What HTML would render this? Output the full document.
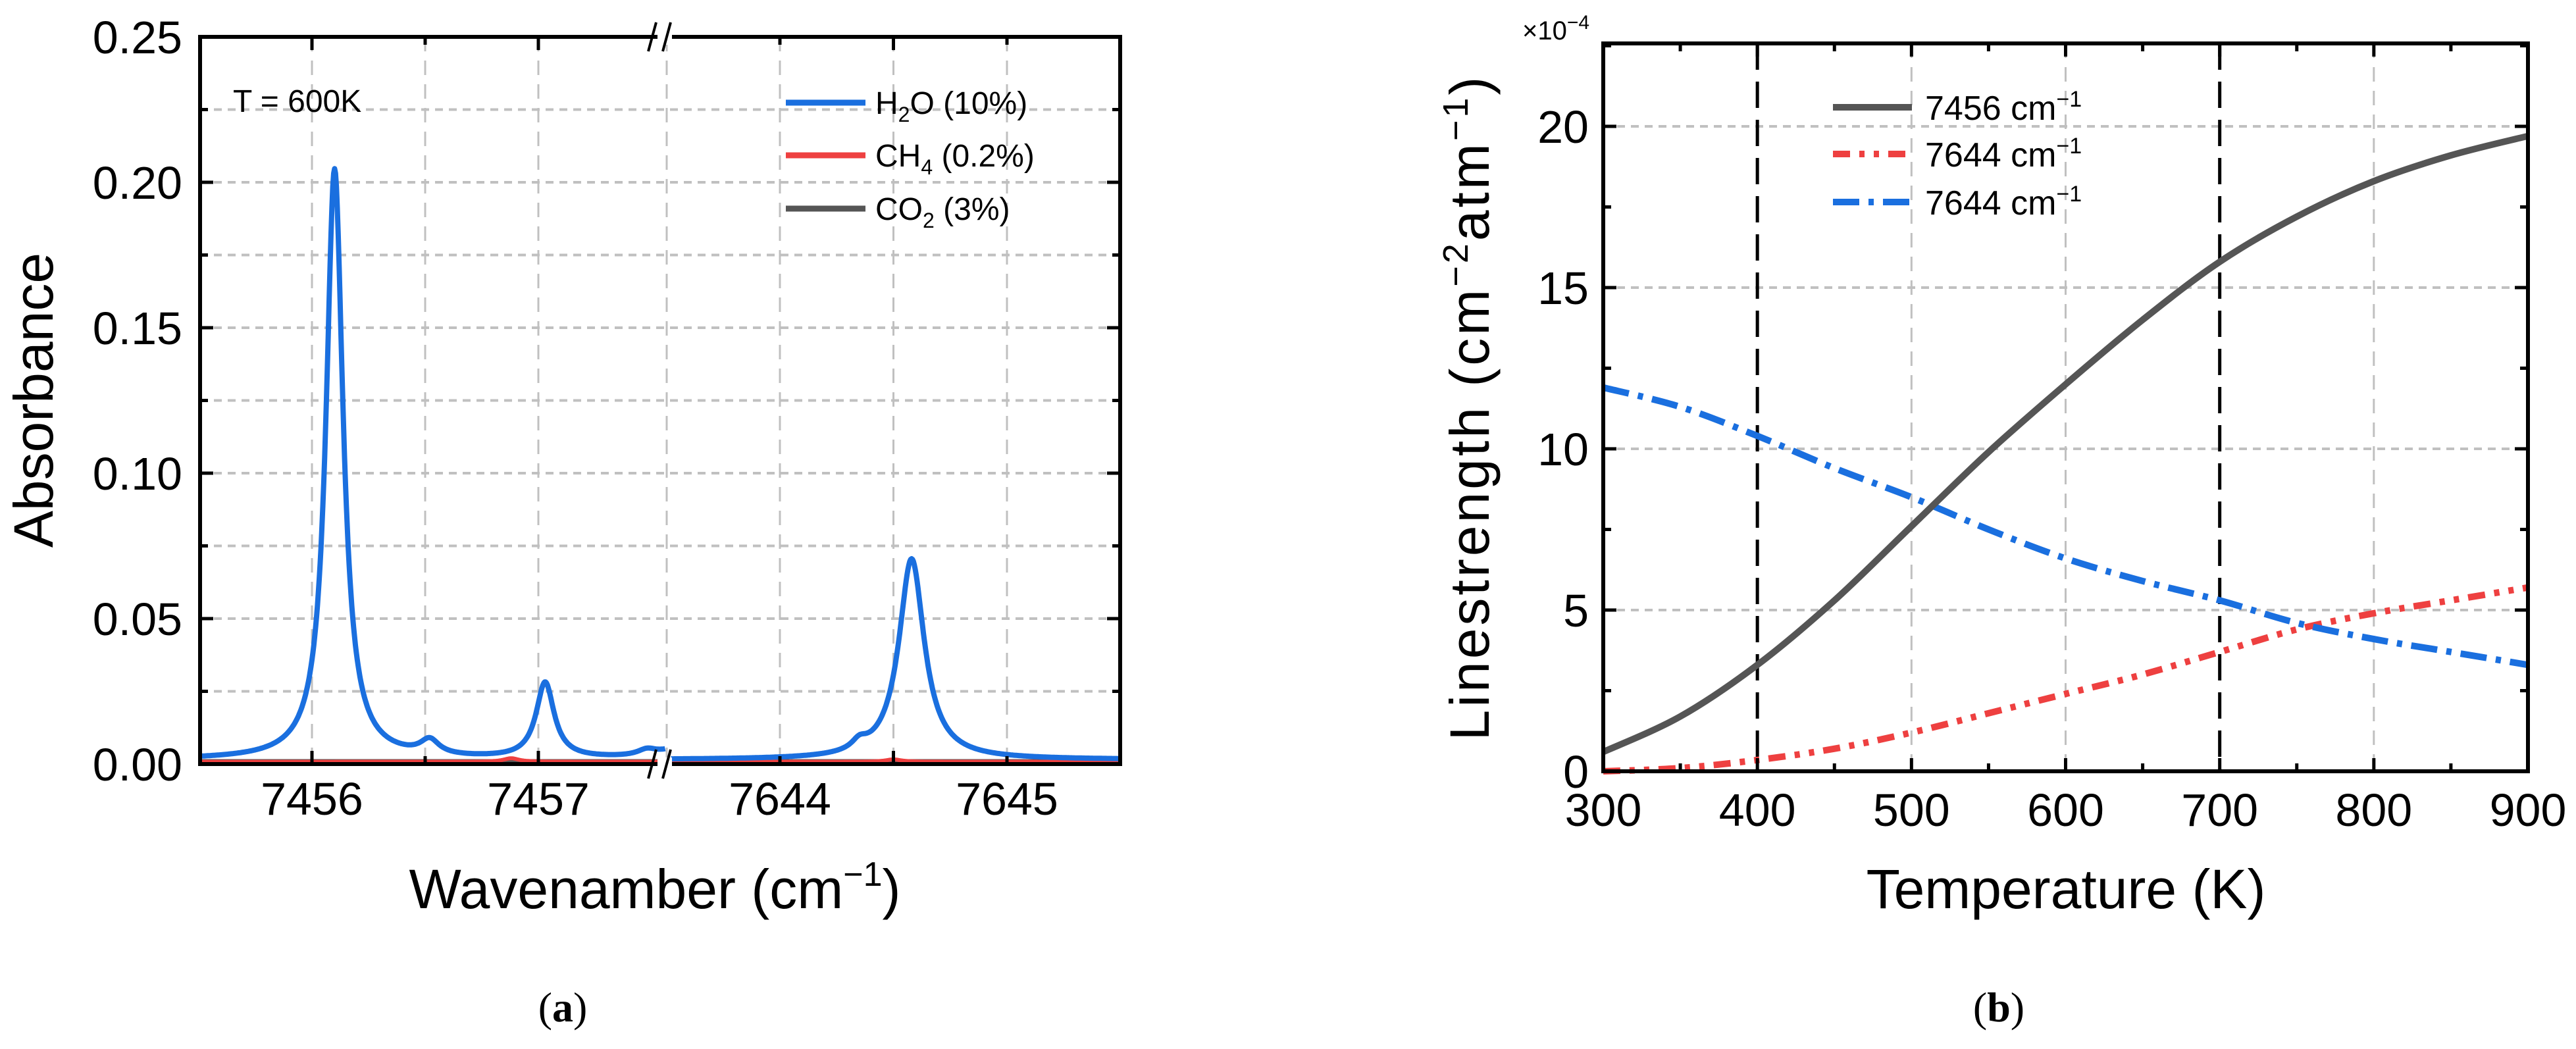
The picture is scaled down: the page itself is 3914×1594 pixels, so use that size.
<!DOCTYPE html>
<html><head><meta charset="utf-8"><style>
html,body{margin:0;padding:0;background:#fff;}
svg{display:block;font-family:"Liberation Sans",Arial,sans-serif;}
</style></head><body>
<svg id="fig" width="3914" height="1594" viewBox="0 0 3914 1594" xmlns="http://www.w3.org/2000/svg">
<g id="chartA"></g>
<g id="chartB"></g>
</svg>
<script>
// ---------- Chart A data ----------
const aLeftTicks = [7456, 7457];
const aRightTicks = [7644, 7645];
const aYTicks = ["0.00","0.05","0.10","0.15","0.20","0.25"];
const h2oCenters = [7456.10, 7456.52, 7457.03, 7457.48, 7457.72, 7644.35, 7644.58];
const h2oHeights = [0.203, 0.005, 0.026, 0.002, 0.010, 0.003, 0.069];
const h2oWidths  = [0.045, 0.050, 0.048, 0.050, 0.100, 0.040, 0.068];
const h2oBaseline = 0.0015;
const ch4Centers = [7456.88, 7644.50];
const ch4Heights = [0.0012, 0.0008];
const ch4Widths  = [0.04, 0.04];
const co2Level = 0.0;
// ---------- Chart B data ----------
const temps = [300,350,400,450,500,550,600,650,700,750,800,850,900];
const s7456 = [0.6,1.7,3.3,5.3,7.6,9.9,12.0,14.0,15.8,17.2,18.3,19.1,19.7];
const s7644red = [0.0,0.1,0.35,0.7,1.2,1.8,2.4,3.0,3.7,4.4,4.9,5.3,5.7];
const s7644blue = [11.9,11.3,10.4,9.4,8.5,7.5,6.6,5.9,5.3,4.6,4.1,3.7,3.3];
const bXTicks = [300,400,500,600,700,800,900];
const bYTicks = [0,5,10,15,20];

const NS="http://www.w3.org/2000/svg";
function mk(parent,tag,attrs,text){const e=document.createElementNS(NS,tag);for(const k in attrs)e.setAttribute(k,attrs[k]);if(text!==undefined)e.textContent=text;parent.appendChild(e);return e;}

// ===== Chart A =====
(function(){
const g=document.getElementById('chartA');
const L=304,R=1702,T=56,B=1161,BRK=1013;
const xA=v=> v<7600 ? 474+(v-7456)*344 : 1185+(v-7644)*345;
const yA=v=> B-v*4420;
for(let v=0.025;v<0.25;v+=0.025){const ln=mk(g,'line',{x1:L,x2:R,y1:yA(v),y2:yA(v),stroke:'#c0c0c0','stroke-width':4,'stroke-dasharray':'12 9'});
}
const vgrid=[7456,7456.5,7457,7644,7644.5,7645];
vgrid.forEach(v=>{const ln=mk(g,'line',{x1:xA(v),x2:xA(v),y1:T,y2:B,stroke:'#c0c0c0','stroke-width':3,'stroke-dasharray':'22 14'});
});
const bl=mk(g,'line',{x1:BRK,x2:BRK,y1:T,y2:B,stroke:'#c0c0c0','stroke-width':3,'stroke-dasharray':'22 14'});

function path(centers,heights,widths,base,x0,x1){let d='';for(let x=x0;x<=x1+1e-9;x+=0.004){let s=base;for(let i=0;i<centers.length;i++){const u=(x-centers[i])/widths[i];s+=heights[i]/(1+u*u);}d+=(d?'L':'M')+xA(x).toFixed(1)+','+yA(s).toFixed(1);}return d;}
const co2=mk(g,'line',{x1:L,x2:R,y1:yA(co2Level)-3,y2:yA(co2Level)-3,stroke:'#555','stroke-width':9});

[[7455.5,7457.56],[7643.52,7645.5]].forEach(([a,b])=>{
 const r=mk(g,'path',{d:path(ch4Centers,ch4Heights,ch4Widths,0.0008,a,b),fill:'none',stroke:'#ee4040','stroke-width':6});
 
 const p=mk(g,'path',{d:path(h2oCenters,h2oHeights,h2oWidths,h2oBaseline,a,b),fill:'none',stroke:'#1a6fdf','stroke-width':8,'stroke-linejoin':'round'});
 
});
const fr=mk(g,'path',{d:`M${L},${T}H${R}V${B}H${L}Z`,fill:'none',stroke:'#000','stroke-width':6});

vgrid.forEach((v,i)=>{const len=(i%2===0)?20:12;
 const t1=mk(g,'line',{x1:xA(v),x2:xA(v),y1:T,y2:T+len,stroke:'#000','stroke-width':5});
 const t2=mk(g,'line',{x1:xA(v),x2:xA(v),y1:B,y2:B-len,stroke:'#000','stroke-width':5});});
for(let k=0;k<=10;k++){const v=k*0.025;const len=(k%2===0)?20:12;
 const t1=mk(g,'line',{x1:L,x2:L+len,y1:yA(v),y2:yA(v),stroke:'#000','stroke-width':5});
 const t2=mk(g,'line',{x1:R,x2:R-len,y1:yA(v),y2:yA(v),stroke:'#000','stroke-width':5});}
[[T,'top'],[B,'bottom']].forEach(([y,n])=>{
 const w=mk(g,'rect',{x:BRK-14,y:y-10,width:22,height:22,fill:'#fff'});
 const s1=mk(g,'line',{x1:BRK-28,x2:BRK-16,y1:y+22,y2:y-22,stroke:'#000','stroke-width':4});
 const s2=mk(g,'line',{x1:BRK-6,x2:BRK+6,y1:y+22,y2:y-22,stroke:'#000','stroke-width':4});});
aLeftTicks.concat(aRightTicks).forEach(v=>{const t=mk(g,'text',{x:xA(v),y:1238,'font-size':70,'text-anchor':'middle'},String(v));});
aYTicks.forEach((s,i)=>{const t=mk(g,'text',{x:277,y:yA(i*0.05)+25,'font-size':70,'text-anchor':'end'},s);});
const xt=mk(g,'text',{x:995,y:1380,'font-size':84,'text-anchor':'middle'});
xt.innerHTML='Wavenamber (cm<tspan font-size="52" dy="-34">−1</tspan><tspan dy="34">)</tspan>';
const yt=mk(g,'text',{x:0,y:0,'font-size':84,'text-anchor':'middle',transform:'translate(80,608) rotate(-90)'},'Absorbance');
const ann=mk(g,'text',{x:354,y:170,'font-size':48},'T = 600K');
const lg=[['#1a6fdf','H','2','O (10%)'],['#ee4040','CH','4',' (0.2%)'],['#555','CO','2',' (3%)']];
lg.forEach((e,i)=>{const y=[156,236,317][i];
 const l=mk(g,'line',{x1:1194,x2:1315,y1:y,y2:y,stroke:e[0],'stroke-width':9});
 const t=mk(g,'text',{x:1330,y:y+17,'font-size':48});
 t.innerHTML=e[1]+'<tspan font-size="32" dy="12">'+e[2]+'</tspan><tspan dy="-12">'+e[3]+'</tspan>';});
const cap=mk(g,'text',{x:855,y:1552,'font-size':64,'text-anchor':'middle','font-family':'Liberation Serif, serif'});
cap.innerHTML='(<tspan font-weight="bold">a</tspan>)';
})();

// ===== Chart B =====
(function(){
const g=document.getElementById('chartB');
const L=2436,R=3841,T=66,B=1172;
const xB=t=>L+(t-300)*(R-L)/600;
const yB=v=>B-v*49;
bYTicks.forEach(v=>{if(v===0)return;const ln=mk(g,'line',{x1:L,x2:R,y1:yB(v),y2:yB(v),stroke:'#c0c0c0','stroke-width':4,'stroke-dasharray':'12 9'});});
bXTicks.forEach(t=>{if(t===300||t===900)return;const dark=(t===400||t===700);
 const ln=mk(g,'line',{x1:xB(t),x2:xB(t),y1:T,y2:B,stroke:dark?'#000':'#c0c0c0','stroke-width':dark?5:3,'stroke-dasharray':dark?'40 18':'22 14'});
 });
function smooth(arr){const p=temps.map((t,i)=>[xB(t),yB(arr[i])]);let d='M'+p[0][0].toFixed(1)+','+p[0][1].toFixed(1);
 for(let i=0;i<p.length-1;i++){const p0=p[Math.max(0,i-1)],p1=p[i],p2=p[i+1],p3=p[Math.min(p.length-1,i+2)];
  const c1=[p1[0]+(p2[0]-p0[0])/6,p1[1]+(p2[1]-p0[1])/6],c2=[p2[0]-(p3[0]-p1[0])/6,p2[1]-(p3[1]-p1[1])/6];
  d+='C'+c1[0].toFixed(1)+','+c1[1].toFixed(1)+' '+c2[0].toFixed(1)+','+c2[1].toFixed(1)+' '+p2[0].toFixed(1)+','+p2[1].toFixed(1);}
 return d;}
const sr=mk(g,'path',{d:smooth(s7644red),fill:'none',stroke:'#ee4040','stroke-width':10,'stroke-dasharray':'26 14 8 14 8 14'});
const sb=mk(g,'path',{d:smooth(s7644blue),fill:'none',stroke:'#1a6fdf','stroke-width':10,'stroke-dasharray':'40 14 8 14'});
const sg=mk(g,'path',{d:smooth(s7456),fill:'none',stroke:'#555','stroke-width':10,'stroke-linejoin':'round'});
const fr=mk(g,'rect',{x:L,y:T,width:R-L,height:B-T,fill:'none',stroke:'#000','stroke-width':6});
for(let t=300;t<=900;t+=50){const len=(t%100===0)?20:12;
 const a=mk(g,'line',{x1:xB(t),x2:xB(t),y1:B,y2:B-len,stroke:'#000','stroke-width':5});
 const b=mk(g,'line',{x1:xB(t),x2:xB(t),y1:T,y2:T+len,stroke:'#000','stroke-width':5});}
for(let v=0;v<=22.5;v+=2.5){const len=(v%5===0)?20:12;
 const a=mk(g,'line',{x1:L,x2:L+len,y1:yB(v),y2:yB(v),stroke:'#000','stroke-width':5});
 const b=mk(g,'line',{x1:R,x2:R-len,y1:yB(v),y2:yB(v),stroke:'#000','stroke-width':5});}
bXTicks.forEach(t=>{const e=mk(g,'text',{x:xB(t),y:1255,'font-size':70,'text-anchor':'middle'},String(t));});
bYTicks.forEach(v=>{const e=mk(g,'text',{x:2414,y:yB(v)+25,'font-size':70,'text-anchor':'end'},String(v));});
const sc=mk(g,'text',{x:2313,y:60,'font-size':40});
sc.innerHTML='×10<tspan font-size="30" dy="-16">−4</tspan>';
const xt=mk(g,'text',{x:3139,y:1380,'font-size':84,'text-anchor':'middle'},'Temperature (K)');
const yt=mk(g,'text',{x:0,y:0,'font-size':84,'text-anchor':'middle','letter-spacing':4,transform:'translate(2262,619) rotate(-90)'});
yt.innerHTML='Linestrength (cm<tspan font-size="54" dy="-32">−2</tspan><tspan dy="32">atm</tspan><tspan font-size="54" dy="-32">−1</tspan><tspan dy="32">)</tspan>';
const lg=[['#555','none','7456'],['#ee4040','26 14 8 14 8 14','7644'],['#1a6fdf','40 14 8 14','7644']];
lg.forEach((e,i)=>{const y=[163,234,307][i];
 const l=mk(g,'line',{x1:2785,x2:2905,y1:y,y2:y,stroke:e[0],'stroke-width':10,'stroke-dasharray':e[1]});
 const t=mk(g,'text',{x:2925,y:y+19,'font-size':52});
 t.innerHTML=e[2]+' cm<tspan font-size="34" dy="-20">−1</tspan>';});
const cap=mk(g,'text',{x:3037,y:1552,'font-size':64,'text-anchor':'middle','font-family':'Liberation Serif, serif'});
cap.innerHTML='(<tspan font-weight="bold">b</tspan>)';
})();
</script>
</body></html>
